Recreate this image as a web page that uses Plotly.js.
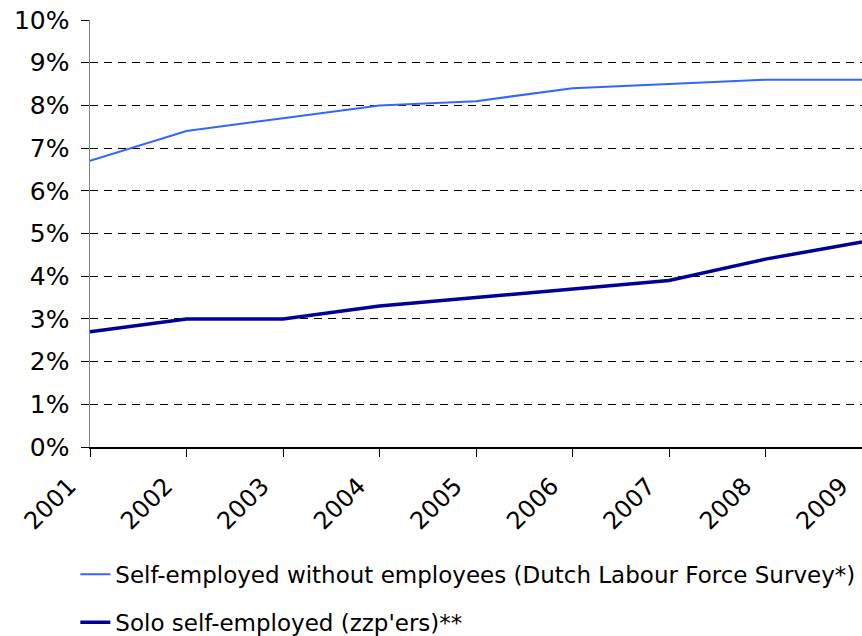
<!DOCTYPE html>
<html>
<head>
<meta charset="utf-8">
<script src="https://cdn.plot.ly/plotly-3.0.1.min.js"></script>
<style>html,body{margin:0;padding:0;background:#fff;}#chart{width:862px;height:636px;}</style>
</head>
<body>
<div id="chart"></div>
<script>
var years = [2001, 2002, 2003, 2004, 2005, 2006, 2007, 2008, 2009];
var yearLabels = ["2001", "2002", "2003", "2004", "2005", "2006", "2007", "2008", "2009"];
var selfEmployedLFS = [6.7, 7.4, 7.7, 8.0, 8.1, 8.4, 8.5, 8.6, 8.6];
var soloSelfEmployed = [2.7, 3.0, 3.0, 3.3, 3.5, 3.7, 3.9, 4.4, 4.8];
var seriesNames = ["Self-employed without employees (Dutch Labour Force Survey*)", "Solo self-employed (zzp'ers)**"];
var yTickVals = [0, 1, 2, 3, 4, 5, 6, 7, 8, 9, 10];
var yTickText = ["0%", "1%", "2%", "3%", "4%", "5%", "6%", "7%", "8%", "9%", "10%"];

var FONT = "DejaVu Sans, Verdana, sans-serif";

var traces = [
  {x: years, y: selfEmployedLFS, name: seriesNames[0], type: "scatter", mode: "lines",
   line: {color: "#3366ff", width: 2}, legendgroup: "a"},
  {x: years, y: soloSelfEmployed, name: seriesNames[1], type: "scatter", mode: "lines",
   line: {color: "#000099", width: 3.5}, legendgroup: "b"}
];

var layout = {
  width: 862, height: 636,
  margin: {l: 90, r: 0, t: 20, b: 189, pad: 0, autoexpand: false},
  paper_bgcolor: "#fff", plot_bgcolor: "#fff",
  font: {family: FONT, color: "#000"},
  showlegend: true,
  legend: {x: -0.019, xanchor: "left", y: -0.248, yanchor: "top",
           orientation: "v", traceorder: "grouped", tracegroupgap: 15,
           font: {family: FONT, size: 23, color: "#000"}, bgcolor: "rgba(0,0,0,0)"},
  xaxis: {range: [2001, 2009], tickvals: years, ticktext: yearLabels, tickangle: -45,
          ticks: "outside", ticklen: 8, tickcolor: "#000", tickwidth: 1,
          ticklabelstandoff: 6, ticklabelshift: -21,
          showline: true, linecolor: "#000", linewidth: 1.5, showgrid: false, zeroline: false,
          tickfont: {family: FONT, size: 24, color: "#000"}, fixedrange: true},
  xaxis2: {overlaying: "x", anchor: "y", side: "bottom", range: [2001, 2009], tickvals: years,
           ticks: "inside", ticklen: 8, tickcolor: "#000", tickwidth: 1,
           showticklabels: false, showline: false, showgrid: false, zeroline: false},
  yaxis: {range: [0, 10], tickvals: yTickVals, ticktext: yTickText, ticks: "outside", ticklen: 8,
          tickcolor: "#000", tickwidth: 1, ticklabelstandoff: 6,
          showline: true, linecolor: "#808080", linewidth: 1.5,
          showgrid: true, gridcolor: "#000", gridwidth: 1, griddash: "8px,6px", zeroline: false,
          tickfont: {family: FONT, size: 25, color: "#000"}, fixedrange: true},
  yaxis2: {overlaying: "y", anchor: "x", side: "left", range: [0, 10], tickvals: yTickVals,
           ticks: "inside", ticklen: 8, tickcolor: "#000", tickwidth: 1,
           showticklabels: false, showline: false, showgrid: false, zeroline: false}
};

Plotly.newPlot("chart", traces, layout, {displayModeBar: false, staticPlot: true});
</script>
</body>
</html>
